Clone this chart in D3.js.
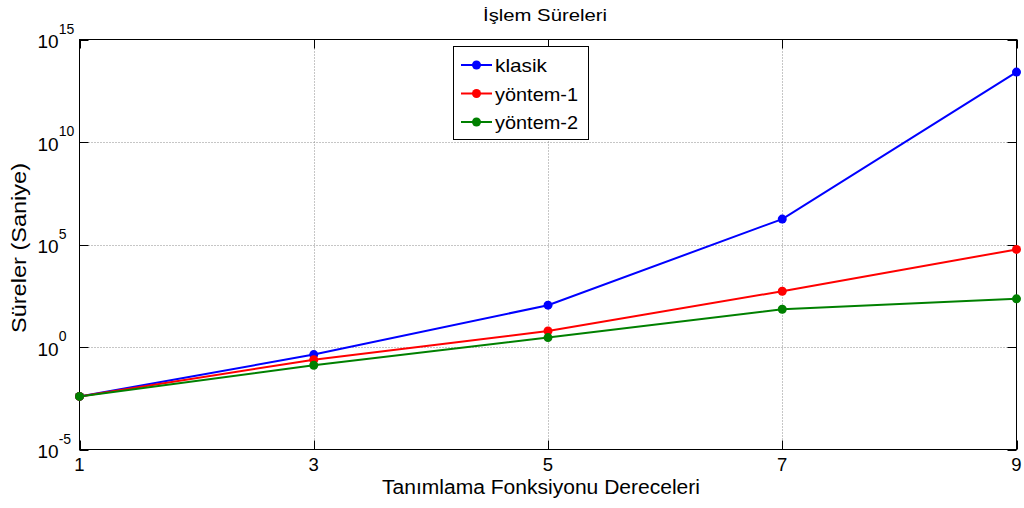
<!DOCTYPE html>
<html>
<head>
<meta charset="utf-8">
<script src="https://cdn.jsdelivr.net/npm/d3@7"></script>
<style>
  html, body { margin: 0; padding: 0; background: #fff; }
  svg { display: block; font-family: "Liberation Sans", Arial, sans-serif; }
</style>
</head>
<body>
<svg id="chart" width="1024" height="508"></svg>
<script>
// Polynomial degree on the x axis, processing time (log10 seconds) per method
const degrees = [1, 3, 5, 7, 9];
const klasik   = [-2.41, -0.37, 2.04, 6.24, 13.41];
const yontem1  = [-2.41, -0.62, 0.78, 2.72, 4.76];
const yontem2  = [-2.41, -0.89, 0.46, 1.84, 2.35];
const seriesNames  = ["klasik", "yöntem-1", "yöntem-2"];
const seriesColors = ["#0000ff", "#ff0000", "#008000"];
const yTickExps = [-5, 0, 5, 10, 15];

const series = [klasik, yontem1, yontem2].map((vals, i) => ({
  name: seriesNames[i],
  color: seriesColors[i],
  points: degrees.map((d, j) => ({ x: d, y: Math.pow(10, vals[j]) }))
}));

const svg = d3.select("#chart");
const m = { left: 79.5, top: 39.5, right: 1016.5, bottom: 449.5 };

const x = d3.scaleLinear().domain([1, 9]).range([m.left, m.right]);
const y = d3.scaleLog().domain([1e-5, 1e15]).range([m.bottom, m.top]);

// Grid lines
const grid = svg.append("g").attr("stroke", "#8c8c8c").attr("stroke-width", 1)
  .attr("stroke-dasharray", "1,2");
grid.selectAll(".gx").data(degrees.slice(1, -1)).enter().append("line")
  .attr("x1", d => Math.round(x(d)) + 0.5).attr("x2", d => Math.round(x(d)) + 0.5)
  .attr("y1", m.top).attr("y2", m.bottom);
grid.selectAll(".gy").data(yTickExps.slice(1, -1)).enter().append("line")
  .attr("y1", d => Math.round(y(Math.pow(10, d))) + 0.5).attr("y2", d => Math.round(y(Math.pow(10, d))) + 0.5)
  .attr("x1", m.left).attr("x2", m.right);

// Axis box
svg.append("rect")
  .attr("x", m.left).attr("y", m.top)
  .attr("width", m.right - m.left).attr("height", m.bottom - m.top)
  .attr("fill", "none").attr("stroke", "#000").attr("stroke-width", 1);

// Inward ticks
const ticks = svg.append("g").attr("stroke", "#000").attr("stroke-width", 1);
degrees.forEach(d => {
  const px = Math.round(x(d)) + 0.5;
  ticks.append("line").attr("x1", px).attr("x2", px).attr("y1", m.bottom).attr("y2", m.bottom - 9);
  ticks.append("line").attr("x1", px).attr("x2", px).attr("y1", m.top).attr("y2", m.top + 9);
});
yTickExps.forEach(e => {
  const py = Math.round(y(Math.pow(10, e))) + 0.5;
  ticks.append("line").attr("x1", m.left).attr("x2", m.left + 9).attr("y1", py).attr("y2", py);
  ticks.append("line").attr("x1", m.right).attr("x2", m.right - 9).attr("y1", py).attr("y2", py);
});

// X tick labels
svg.append("g").selectAll("text").data(degrees).enter().append("text")
  .attr("x", d => x(d)).attr("y", 471)
  .attr("text-anchor", "middle").attr("font-size", 18.5).attr("fill", "#000")
  .text(d => d);

// Y tick labels as 10^n
const yl = svg.append("g");
yTickExps.forEach(e => {
  const py = y(Math.pow(10, e));
  const t = yl.append("text").attr("x", 37.5).attr("y", py + 8.5)
    .attr("text-anchor", "start").attr("font-size", 19).attr("fill", "#000");
  t.append("tspan").text("10");
  t.append("tspan").attr("dy", -14.5).attr("font-size", 14).text(e);
});

// Titles
svg.append("text").attr("x", 545).attr("y", 21).attr("text-anchor", "middle")
  .attr("font-size", 17).attr("textLength", 124).attr("lengthAdjust", "spacingAndGlyphs")
  .text("İşlem Süreleri");
svg.append("text").attr("x", 541).attr("y", 494).attr("text-anchor", "middle")
  .attr("font-size", 20).attr("textLength", 318).attr("lengthAdjust", "spacingAndGlyphs")
  .text("Tanımlama Fonksiyonu Dereceleri");
svg.append("text").attr("transform", "translate(26,248) rotate(-90)")
  .attr("text-anchor", "middle").attr("font-size", 20.5)
  .attr("textLength", 170).attr("lengthAdjust", "spacingAndGlyphs")
  .text("Süreler (Saniye)");

// Series lines and markers
const line = d3.line().x(d => x(d.x)).y(d => y(d.y));
series.forEach(s => {
  const g = svg.append("g");
  g.append("path").datum(s.points).attr("d", line)
    .attr("fill", "none").attr("stroke", s.color).attr("stroke-width", 2);
  g.selectAll("circle").data(s.points).enter().append("circle")
    .attr("cx", d => x(d.x)).attr("cy", d => y(d.y)).attr("r", 4.5)
    .attr("fill", s.color);
});

// Legend
const lg = svg.append("g");
lg.append("rect").attr("x", 453.5).attr("y", 46.5).attr("width", 135).attr("height", 93)
  .attr("fill", "#fff").attr("stroke", "#000").attr("stroke-width", 1);
series.forEach((s, i) => {
  const cy = 65 + i * 28.5;
  lg.append("line").attr("x1", 461).attr("x2", 492).attr("y1", cy).attr("y2", cy)
    .attr("stroke", s.color).attr("stroke-width", 2);
  lg.append("circle").attr("cx", 476.5).attr("cy", cy).attr("r", 4.5).attr("fill", s.color);
  lg.append("text").attr("x", 495).attr("y", cy + 7).attr("font-size", 19)
    .attr("textLength", i === 0 ? 52 : 83).attr("lengthAdjust", "spacingAndGlyphs")
    .text(s.name);
});
</script>
</body>
</html>
